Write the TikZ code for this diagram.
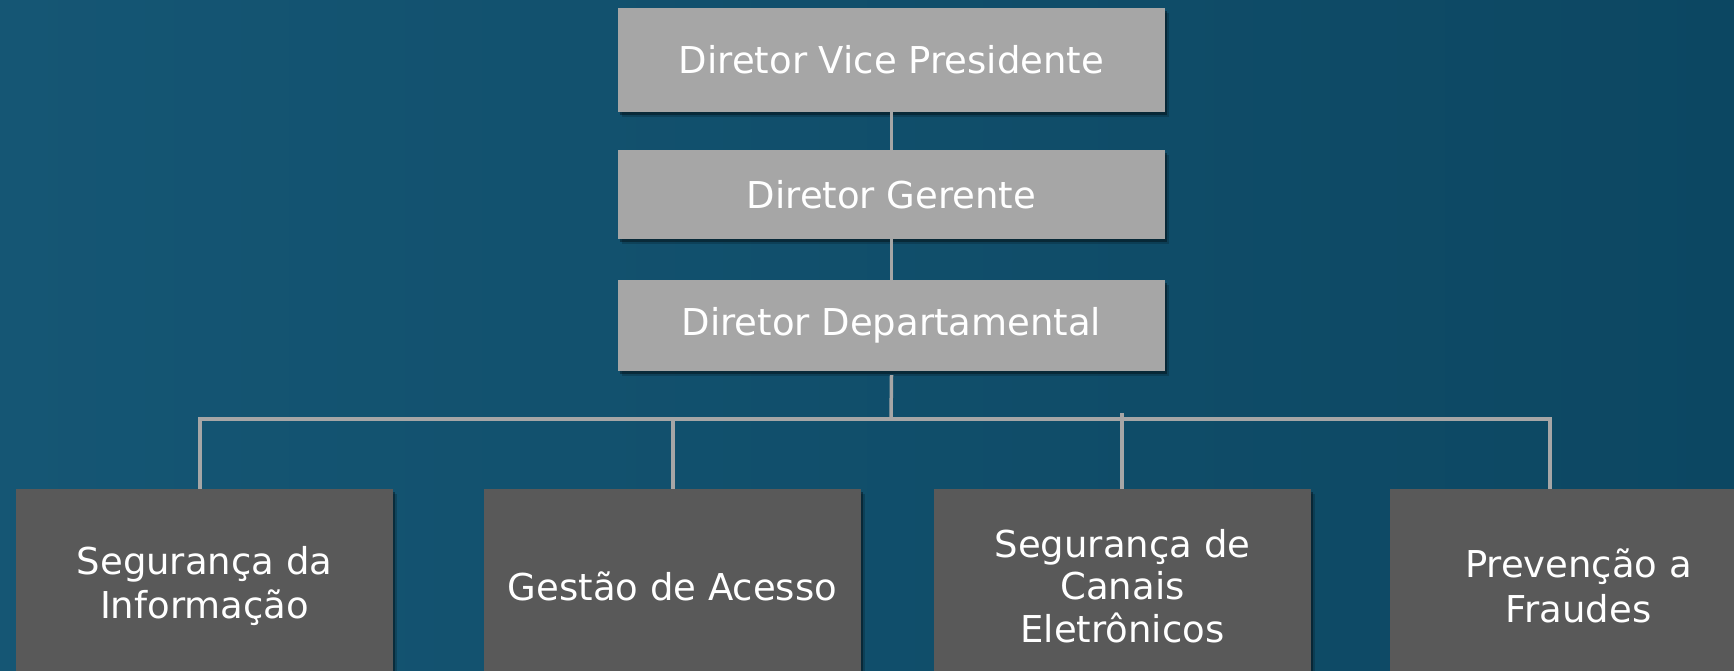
\documentclass[tikz,border=0pt]{standalone}
\usepackage{fontspec}
\setmainfont{DejaVu Sans}
\usetikzlibrary{shadows}
\definecolor{bgL}{RGB}{21,86,116}
\definecolor{bgR}{RGB}{12,71,98}
\definecolor{lightbox}{RGB}{166,166,166}
\definecolor{darkbox}{RGB}{89,89,89}
\definecolor{conncol}{RGB}{166,166,166}
\tikzset{
  boxbase/.style={rectangle, inner sep=0pt, text=white, align=center,
    font=\fontsize{37}{44.5}\selectfont,
    drop shadow={shadow xshift=4pt, shadow yshift=-5pt, opacity=0.18, fill=black},
    drop shadow={shadow xshift=2pt, shadow yshift=-3pt, opacity=0.35, fill=black}},
  topbox/.style={boxbase, fill=lightbox, minimum width=547pt},
  botbox/.style={boxbase, fill=darkbox, minimum width=377pt, minimum height=194pt},
  conn/.style={draw=conncol, line width=3.5pt}
}
\begin{document}
\begin{tikzpicture}[x=1pt,y=-1pt]
\useasboundingbox (0,0) rectangle (1734,671);
\clip (0,0) rectangle (1734,671);
\shade[left color=bgL, right color=bgR] (0,0) rectangle (1734,671);

% top column
\node[topbox, minimum height=104pt] (dvp) at (891.5,60) {Diretor Vice Presidente};
\node[topbox, minimum height=89pt] (dg) at (891.5,194.5) {Diretor Gerente};
\node[topbox, minimum height=91pt] (dd) at (891.5,325.5) {Diretor Departamental};

% bottom row
\node[botbox] (si) at (204.5,586) {Segurança da\\Informação};
\node[botbox] (ga) at (672.5,586) {Gestão de Acesso};
\node[botbox, font=\fontsize{37}{42.5}\selectfont] (sc) at (1122.5,586) {Segurança de\\Canais\\Eletrônicos};
\node[botbox] (pf) at (1578.5,586) {Prevenção a\\Fraudes};

% bus coordinates
\coordinate (busL) at (200,419);
\coordinate (busR) at (1550,419);
\coordinate (busM) at (891,419);
\coordinate (dropB) at (673,419);
\coordinate (dropC) at (1122,413);

% connectors
\draw[conn] (dvp.south) -- (dg.north);
\draw[conn] (dg.south) -- (dd.north);
\draw[conn] ([yshift=-4pt]dd.south) -- (busM);
\draw[conn] ([xshift=-1.75pt]busL) -- ([xshift=1.75pt]busR);
\draw[conn] ([yshift=1.75pt]busL) -- (busL |- si.north);
\draw[conn] (dropB) -- (dropB |- ga.north);
\draw[conn] (dropC) -- (dropC |- sc.north);
\draw[conn] ([yshift=1.75pt]busR) -- (busR |- pf.north);
\end{tikzpicture}
\end{document}
